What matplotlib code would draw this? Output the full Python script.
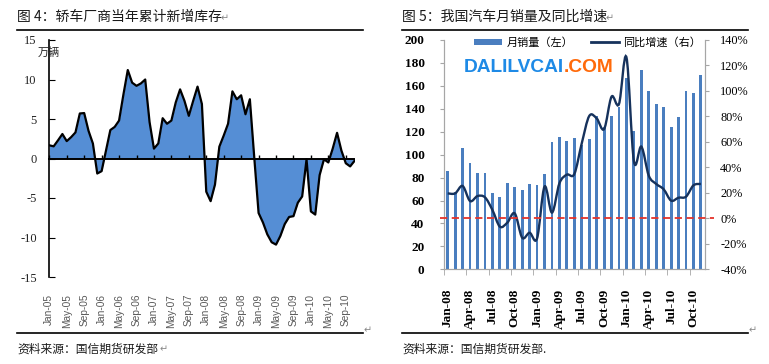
import matplotlib
matplotlib.use('Agg')
import matplotlib.pyplot as plt
from matplotlib.lines import Line2D
from matplotlib.path import Path
from matplotlib.patches import PathPatch
import numpy as np

plt.rcParams['font.family'] = ['Noto Sans CJK SC', 'DejaVu Sans']
plt.rcParams['axes.unicode_minus'] = False

# ---------------- data: Figure 4 (inventory, 万辆), Jan-05 .. Nov-10 monthly
inv_tick_labels = ['Jan-05', 'May-05', 'Sep-05', 'Jan-06', 'May-06', 'Sep-06',
                   'Jan-07', 'May-07', 'Sep-07', 'Jan-08', 'May-08', 'Sep-08',
                   'Jan-09', 'May-09', 'Sep-09', 'Jan-10', 'May-10', 'Sep-10']
inventory = [1.67, 1.54, 2.3, 3.1, 2.2, 2.7, 3.3, 5.7, 5.75, 3.5,
             1.9, -1.9, -1.6, 1.0, 3.6, 4.0, 4.8, 8.1, 11.2, 9.6,
             9.2, 9.5, 10.0, 4.6, 1.25, 1.9, 5.1, 4.4, 4.8, 7.1,
             8.75, 7.3, 5.4, 7.3, 9.1, 6.9, -4.2, -5.4, -3.3, 1.5,
             2.9, 4.4, 8.5, 7.5, 8.0, 5.6, 7.5, 0.2, -6.9, -8.1,
             -9.6, -10.6, -10.9, -9.8, -8.3, -7.4, -7.3, -5.6, -4.8, -0.1,
             -6.7, -7.1, -2.1, -0.1, -0.5, 1.25, 3.25, 1.0, -0.6, -1.0, -0.3]

# ---------------- data: Figure 5 (monthly sales, yoy growth), Jan-08 .. Nov-10
sales_tick_labels = ['Jan-08', 'Apr-08', 'Jul-08', 'Oct-08', 'Jan-09', 'Apr-09',
                     'Jul-09', 'Oct-09', 'Jan-10', 'Apr-10', 'Jul-10', 'Oct-10']
sales = [85.8, 67, 105.5, 92.4, 83.7, 83.7, 66.9, 62.8, 75, 72,
         68.9, 74, 73.3, 83, 111, 115.7, 112, 114.2, 108.4, 113.7,
         133.7, 124.4, 134, 141.3, 166.6, 121, 173.8, 155.8, 144.2, 141.3,
         123.8, 132.6, 155.8, 154, 169.5]
growth = [19.6, 19.6, 25.4, 13.6, 17.5, 16.5, 6.6, -6.5, -3.4, 3.9,
          -15.2, -11.3, -15.7, 24.9, 4.5, 27.5, 34.3, 34.8, 58.9, 80.3,
          78.5, 70.1, 95.5, 89.8, 126.4, 45, 56.3, 33.5, 27, 22.8,
          13.9, 16.2, 17, 25.9, 27]
ref_level = 0  # 0% reference line

W, H = 769, 364
fig = plt.figure(figsize=(W / 100, H / 100), dpi=100)


def fx(px):
    return px / W


def fy(py):
    return 1 - py / H


# ---------------- left chart
axL = fig.add_axes([fx(49.3), fy(277), fx(354.5) - fx(49.3), fy(40) - fy(277)])
xi = np.arange(len(inventory))
axL.fill_between(xi, 0, inventory, color='#558ED5', linewidth=0, zorder=1)
axL.plot(xi, inventory, color='black', lw=1.6, zorder=3)
axL.set_xlim(0, len(inventory) - 1)
axL.set_ylim(-15, 15)
for s in ('top', 'right'):
    axL.spines[s].set_visible(False)
axL.spines['bottom'].set_position(('data', 0))
axL.spines['bottom'].set_linewidth(1.4)
axL.spines['left'].set_linewidth(1.2)
tick_pos = np.arange(0, len(inventory), 4)[:len(inv_tick_labels)]
axL.set_xticks(tick_pos)
axL.tick_params(axis='x', direction='in', length=3, labelbottom=False, width=1)
axL.set_yticks(np.arange(-15, 16, 5))
axL.tick_params(axis='y', direction='in', length=4, pad=9, labelsize=9,
                labelcolor='#222222', labelfontfamily='Liberation Serif')
sec = axL.secondary_xaxis('bottom')
sec.set_xticks(tick_pos, inv_tick_labels, rotation=90, fontsize=7.3,
               color='#595959', fontfamily='Liberation Sans')
sec.tick_params(length=0, pad=12)
sec.spines['bottom'].set_visible(False)
axL.text(0, 0.947, '万辆', transform=axL.transAxes, ha='center', va='center',
         fontsize=8, color='#222222')

# ---------------- right chart
axR = fig.add_axes([fx(444), fy(269.3), fx(705) - fx(444), fy(40) - fy(269.3)])
xs = np.arange(len(sales))
bars = axR.bar(xs, sales, width=0.38, color='#4A7EBF', zorder=2, label='月销量（左）')
axR.set_xlim(-0.45, len(sales) - 0.45)
axR.set_ylim(0, 200)
axR.set_yticks(np.arange(0, 201, 20), [str(v) for v in range(0, 201, 20)],
               fontweight='bold', fontfamily='Liberation Serif', fontsize=9.5)
axR.tick_params(axis='y', length=3, color='#A6A6A6', pad=11)
qpos = xs[::3]
axR.set_xticks(qpos, sales_tick_labels, rotation=90, fontweight='bold',
               fontfamily='Liberation Serif', fontsize=9.5)
axR.set_xticks(np.arange(-0.5, len(sales), 3), minor=True)
axR.tick_params(axis='x', which='major', length=0, pad=14)
axR.tick_params(axis='x', which='minor', length=4, color='#A6A6A6')
for s in ('left', 'bottom', 'right'):
    axR.spines[s].set_color('#A6A6A6')
axR.spines['top'].set_visible(False)

ax2 = axR.twinx()
ax2.set_ylim(-40, 140)
ax2.set_yticks(np.arange(-40, 141, 20), ['%d%%' % v for v in range(-40, 141, 20)],
               fontfamily='Liberation Serif', fontsize=8.8)
ax2.tick_params(axis='y', length=3, color='#A6A6A6', pad=8)
for s in ('left', 'bottom', 'right'):
    ax2.spines[s].set_color('#A6A6A6')
ax2.spines['top'].set_visible(False)

# smooth line through growth values (Catmull-Rom as cubic Bezier)
P = np.column_stack([xs.astype(float), np.array(growth, dtype=float)])
n = len(P)
verts = [P[0]]
codes = [Path.MOVETO]
for i in range(n - 1):
    p_prev = P[i - 1] if i > 0 else P[i]
    p_next2 = P[i + 2] if i + 2 < n else P[i + 1]
    c1 = P[i] + (P[i + 1] - p_prev) / 6
    c2 = P[i + 1] - (p_next2 - P[i]) / 6
    verts += [c1, c2, P[i + 1]]
    codes += [Path.CURVE4] * 3
ax2.add_patch(PathPatch(Path(verts, codes), fill=False, edgecolor='#16325C',
                        lw=1.7, zorder=4))
ax2.axhline(ref_level, xmin=-0.015, xmax=1.035, color='#E5332A', lw=1.3,
            ls=(0, (4, 2.5)), clip_on=False, zorder=5)

handles = [bars, Line2D([], [], color='#16325C', lw=2)]
ax2.legend(handles, ['月销量（左）', '同比增速（右）'], loc='center',
           bbox_to_anchor=(0.55, 0.99), ncol=2, frameon=False, fontsize=8,
           handlelength=2.5, handleheight=0.5, columnspacing=1.6,
           handletextpad=0.4, borderaxespad=0)

# watermark
axR.text(fx(564), fy(67), 'DALILVCAI', transform=fig.transFigure, ha='right',
         va='center', fontsize=13.8, fontweight='bold', color='#1E8AE6',
         fontfamily='Liberation Sans', zorder=6)
axR.text(fx(564), fy(67), '.COM', transform=fig.transFigure, ha='left',
         va='center', fontsize=13.8, fontweight='bold', color='#FF6A0A',
         fontfamily='Liberation Sans', zorder=6)

# ---------------- titles, rules, sources
fig.text(fx(17), fy(17), '图 4：轿车厂商当年累计新增库存', ha='left', va='center',
         fontsize=10, color='#1a1a1a')
fig.text(fx(221), fy(18), '↵', ha='left', va='center', fontsize=7, color='#888888',
         family='DejaVu Sans')
fig.text(fx(402), fy(17), '图 5：我国汽车月销量及同比增速', ha='left', va='center',
         fontsize=10, color='#1a1a1a')
fig.text(fx(606), fy(18), '↵', ha='left', va='center', fontsize=7, color='#888888',
         family='DejaVu Sans')

for (x0, x1, y) in [(17, 363, 30), (402, 748, 30), (17, 363, 333), (402, 748, 333)]:
    fig.add_artist(Line2D([fx(x0), fx(x1)], [fy(y), fy(y)], transform=fig.transFigure,
                          color='black', lw=1.2))
fig.text(fx(364), fy(330), '↵', ha='left', va='center', fontsize=7, color='#888888',
         family='DejaVu Sans')
fig.text(fx(749), fy(330), '↵', ha='left', va='center', fontsize=7, color='#888888',
         family='DejaVu Sans')

fig.text(fx(17), fy(349), '资料来源：国信期货研发部', ha='left', va='center',
         fontsize=8.5, color='#1a1a1a')
fig.text(fx(160), fy(349), '↵', ha='left', va='center', fontsize=7, color='#888888',
         family='DejaVu Sans')
fig.text(fx(402), fy(349), '资料来源：国信期货研发部.', ha='left', va='center',
         fontsize=8.5, color='#1a1a1a')

fig.savefig('out.png', dpi=100)
